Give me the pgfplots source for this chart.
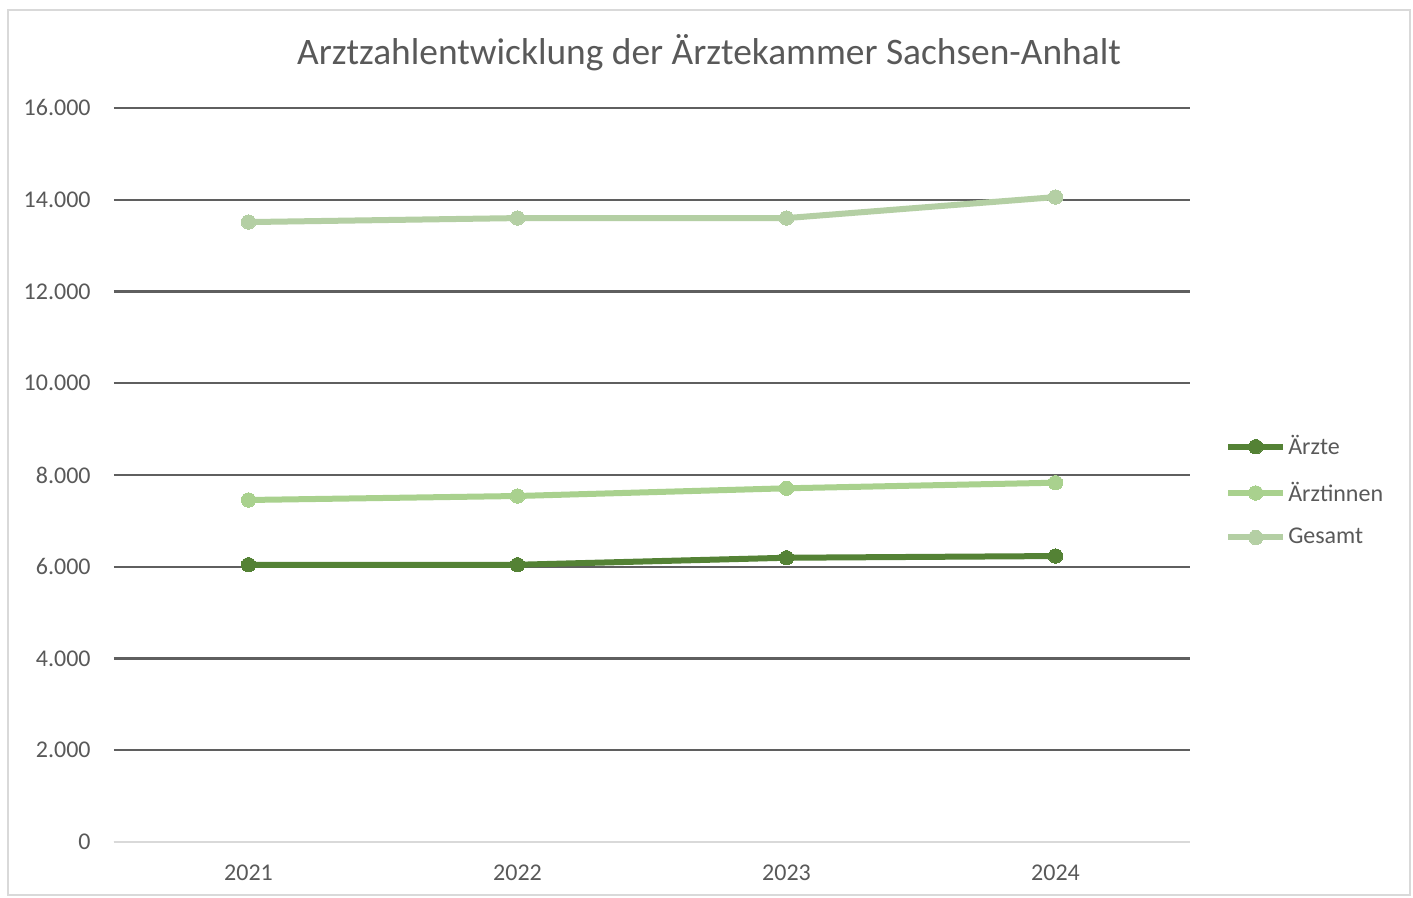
\documentclass[border=0pt]{standalone}
\usepackage{pgfplots}
\pgfplotsset{compat=1.18}
\usepackage{fontspec}
\setmainfont{Carlito}
\definecolor{aerzte}{HTML}{548235}
\definecolor{aerztinnen}{HTML}{A9D18E}
\definecolor{gesamt}{HTML}{B4CFA4}
\definecolor{txt}{HTML}{595959}
\definecolor{gridc}{HTML}{5F5F5F}
\definecolor{framec}{HTML}{D9D9D9}
\begin{document}
\begin{tikzpicture}
\fill[white] (0,0) rectangle (706.5pt,449pt);
\draw[framec, line width=0.75pt] (4pt,1.5pt) rectangle (705pt,444pt);
\node[anchor=base, font=\fontsize{18.7}{20}\selectfont, text=txt, inner sep=0pt] at (354.5pt,416.5pt) {Arztzahlentwicklung der Ärztekammer Sachsen-Anhalt};
\begin{axis}[
  at={(57pt,28pt)}, anchor=south west,
  scale only axis, width=538pt, height=367pt,
  xmin=-0.5, xmax=3.5, ymin=0, ymax=16000,
  xtick={0,1,2,3}, xticklabels={2021,2022,2023,2024},
  ytick={0,2000,4000,6000,8000,10000,12000,14000,16000},
  scaled y ticks=false,
  /pgf/number format/.cd, 1000 sep={.}, assume math mode=true, /pgfplots/.cd,
  major tick length=0pt,
  axis line style={draw=none},
  ymajorgrids, grid style={gridc, line width=1.2pt},
  extra y ticks={0}, extra y tick labels={},
  extra y tick style={grid style={framec, line width=1.2pt}},
  tick label style={font=\fontsize{12}{14}\selectfont, text=txt},
  yticklabel style={inner sep=0pt, xshift=-11.5pt},
  xticklabel style={inner sep=0pt, yshift=-11.5pt},
  legend cell align=left,
  legend style={at={(1.0324,0.478)}, anchor=west, draw=none, fill=none,
    font=\fontsize{12}{14}\selectfont, text=txt, inner sep=0pt, row sep=10pt,
    nodes={inner sep=1pt}},
  legend image code/.code={
    \draw[#1, mark repeat=2, mark phase=2] plot coordinates {(0pt,0pt) (13.75pt,0pt) (27.5pt,0pt)};
  },
]
\addplot[aerzte, line width=3pt, mark=*, mark size=3.6pt, mark options={solid, line width=0pt}] coordinates {(0,6043) (1,6043) (2,6196) (3,6233)};
\addlegendentry{Ärzte}
\addplot[aerztinnen, line width=3pt, mark=*, mark size=3.6pt, mark options={solid, line width=0pt}] coordinates {(0,7455) (1,7542) (2,7710) (3,7832)};
\addlegendentry{Ärztinnen}
\addplot[gesamt, line width=3pt, mark=*, mark size=3.6pt, mark options={solid, line width=0pt}] coordinates {(0,13513) (1,13600) (2,13600) (3,14058)};
\addlegendentry{Gesamt}
\end{axis}
\end{tikzpicture}
\end{document}
